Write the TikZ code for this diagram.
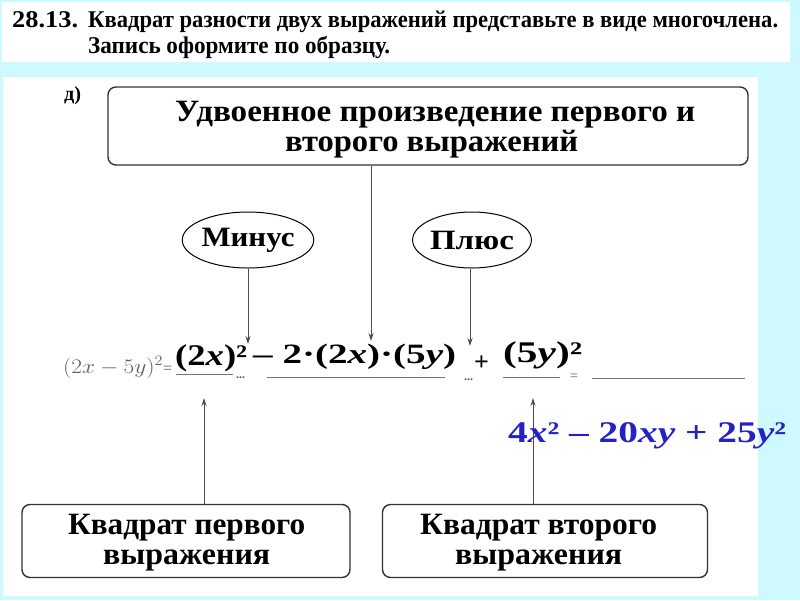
\documentclass[tikz,border=0pt]{standalone}
\usepackage{fontspec}
\setmainfont{Liberation Serif}
\usetikzlibrary{arrows.meta,shapes.geometric}
\definecolor{bgc}{RGB}{206,250,255}
\definecolor{bluetxt}{RGB}{35,35,195}
\definecolor{greytxt}{RGB}{95,95,95}
\newcommand\fitw[2]{\resizebox{#1}{\height}{#2}}
\newcommand\fs[1]{\fontsize{#1}{#1}\selectfont}
\begin{document}
\begin{tikzpicture}[x=1pt,y=-1pt,
  box/.style={draw=black!80, line width=1.4pt, rounded corners=8pt, fill=white, inner sep=0pt},
  oval/.style={ellipse, draw=black, line width=1pt, fill=white, inner sep=0pt, minimum width=106pt, minimum height=56pt},
  conn/.style={draw=black!70, line width=0.9pt, -{Stealth[length=8pt,width=5pt]}},
  uline/.style={draw=black!55, line width=0.8pt},
  txt/.style={inner sep=0pt, anchor=base west},
  boldtxt/.style={inner sep=0pt, anchor=base west, font=\bfseries},
]
\useasboundingbox (0,0) rectangle (800,600);
\fill[bgc] (0,0) rectangle (800,600);
\fill[white] (2,2) rectangle (790,62);
\fill[white] (3,77) rectangle (758,596);

% header
\node[txt] (h1) at (12,27) {\fs{24}\bfseries\fitw{66pt}{28.13.}};
\node[txt] (h2) at (88,27) {\fs{24}\bfseries\fitw{690pt}{Квадрат разности двух выражений представьте в виде многочлена.}};
\node[txt] (h3) at (88,53) {\fs{24}\bfseries\fitw{302pt}{Запись оформите по образцу.}};
\node[txt] (d) at (64,100) {\fs{20}\bfseries\fitw{17pt}{д)}};

% top box
\node[box, minimum width=640pt, minimum height=78pt] (top) at (428,126) {};
\node[txt] (t1) at (175,121) {\fs{31}\bfseries\fitw{520pt}{Удвоенное произведение первого и}};
\node[txt] (t2) at (285,151) {\fs{31}\bfseries\fitw{293pt}{второго выражений}};

% ellipses
\node[oval] (minus) at (248,240) {\fs{28}\bfseries\fitw{93pt}{Минус}};
\node[oval] (plus) at (472,240) {\fs{28}\bfseries\fitw{84pt}{Плюс}};

% arrow targets
\coordinate (am) at (248,344);
\coordinate (at) at (371,341);
\coordinate (ap) at (470,346);
\coordinate (ab1) at (204,398);
\coordinate (ab2) at (533,398);

% bottom boxes
\node[box, minimum width=328pt, minimum height=73pt] (bl) at (186,541) {};
\node[box, minimum width=325pt, minimum height=73pt] (br) at (545,541) {};
\node[txt] (b1) at (68,534) {\fs{31}\bfseries\fitw{237pt}{Квадрат первого}};
\node[txt] (b2) at (103,564) {\fs{31}\bfseries\fitw{167pt}{выражения}};
\node[txt] (b3) at (420,534) {\fs{31}\bfseries\fitw{237pt}{Квадрат второго}};
\node[txt] (b4) at (455,564) {\fs{31}\bfseries\fitw{167pt}{выражения}};

% connectors
\draw[conn] (minus.south) -- (am);
\draw[conn] (plus.south -| ap) -- (ap);
\draw[conn] (top.south -| at) -- (at);
\draw[conn] (bl.north -| ab1) -- (ab1);
\draw[conn] (br.north -| ab2) -- (ab2);

% equation row (printed)
\node[txt, text=greytxt] (eq0) at (63,373) {\fs{20}\fitw{100pt}{$(2x-5y)^2$}};
\node[txt, text=greytxt] (eq1) at (163,373) {\fs{16}=};
\coordinate (u1a) at (176,374); \coordinate (u1b) at (233,374);
\coordinate (u2a) at (267,377); \coordinate (u2b) at (445,377);
\coordinate (u3a) at (503,377); \coordinate (u3b) at (560,377);
\coordinate (u4a) at (592,378); \coordinate (u4b) at (745,378);
\draw[uline] (u1a) -- (u1b);
\draw[uline] (u2a) -- (u2b);
\draw[uline] (u3a) -- (u3b);
\draw[uline] (u4a) -- (u4b);
\node[txt, text=greytxt] (dd1) at (236,378) {\fs{12}\bfseries...};
\node[txt, text=greytxt] (dd2) at (464,380) {\fs{12}\bfseries...};
\node[txt, text=greytxt] (eq2) at (570,380) {\fs{14}=};

% handwritten parts
\node[boldtxt] (w1) at (175,365) {\fs{30}\fitw{72pt}{(2\textit{x})²}};
\node[boldtxt] (w2) at (253,363) {\fs{28}\fitw{203pt}{– 2·(2\textit{x})·(5\textit{y})}};
\node[boldtxt] (w3) at (474,370) {\fs{26}+};
\node[boldtxt] (w4) at (503,362) {\fs{30}\fitw{79pt}{(5\textit{y})²}};

% answer
\node[boldtxt, text=bluetxt] (ans) at (508,442) {\fs{30}\fitw{278pt}{4\textit{x}² – 20\textit{xy} + 25\textit{y}²}};
\end{tikzpicture}
\end{document}
